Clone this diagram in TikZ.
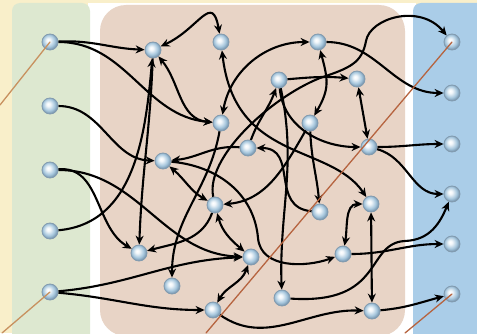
\documentclass[tikz,border=0pt]{standalone}
\usetikzlibrary{arrows.meta}
\definecolor{cream}{RGB}{249,239,202}
\definecolor{panelgreen}{RGB}{221,232,208}
\definecolor{panelbrown}{RGB}{232,212,198}
\definecolor{panelblue}{RGB}{170,205,232}
\definecolor{nodeblue}{RGB}{168,200,222}
\definecolor{nodering}{RGB}{120,150,175}
\definecolor{nodeedge}{RGB}{130,155,175}
\definecolor{tanline}{RGB}{200,145,95}
\definecolor{rustline}{RGB}{182,100,64}
% glossy sphere for the units
\pgfdeclareradialshading{sphere}{\pgfpoint{-6bp}{6bp}}{%
  color(0bp)=(white); color(6bp)=(white!85!nodeblue);
  color(18bp)=(nodeblue); color(26bp)=(nodering); color(50bp)=(nodering)}
\pgfdeclarelayer{back}
\pgfdeclarelayer{wires}
\pgfdeclarelayer{front}
\pgfsetlayers{back,wires,main,front}
\tikzset{
  unit/.style={circle, minimum size=16pt, inner sep=0pt, shading=sphere,
    draw=nodeedge, line width=0.8pt},
  link/.style={line width=2.1pt, black, -{Stealth[length=9pt,width=8pt]}},
  link2/.style={line width=2.1pt, black,
    {Stealth[length=9pt,width=8pt]}-{Stealth[length=9pt,width=8pt]}},
  guide/.style={line width=1.3pt, line cap=round},
}
\begin{document}
\begin{tikzpicture}[x=1pt,y=1pt]
\useasboundingbox (0,0) rectangle (477,333);
\clip (0,0) rectangle (477,333);

% background and the three panels
\begin{pgfonlayer}{back}
\fill[cream] (0,0) rectangle (477,333);
\fill[white] (88,-5) rectangle (416,330);
\fill[panelgreen, rounded corners=8pt] (12,-20) rectangle (90,330);
\fill[panelbrown, rounded corners=26pt] (100,-3) rectangle (405,328);
\fill[panelblue, rounded corners=8pt] (413,-20) rectangle (500,330);
\end{pgfonlayer}

% input units
\node[unit] (L1) at (50,291) {};
\node[unit] (L2) at (50,227) {};
\node[unit] (L3) at (50,163) {};
\node[unit] (L4) at (50,102) {};
\node[unit] (L5) at (50,41) {};
% output units
\node[unit] (R1) at (452,291) {};
\node[unit] (R2) at (452,240) {};
\node[unit] (R3) at (452,189) {};
\node[unit] (R4) at (452,139) {};
\node[unit] (R5) at (452,89) {};
\node[unit] (R6) at (452,39) {};
% hidden units
\node[unit] (A) at (153,283) {};
\node[unit] (B) at (221,291) {};
\node[unit] (C) at (318,291) {};
\node[unit] (D) at (279,253) {};
\node[unit] (E) at (357,254) {};
\node[unit] (F) at (221,210) {};
\node[unit] (G) at (310,210) {};
\node[unit] (H) at (369,186) {};
\node[unit] (I) at (163,172) {};
\node[unit] (J) at (248,185) {};
\node[unit] (K) at (215,128) {};
\node[unit] (L) at (320,121) {};
\node[unit] (M) at (371,129) {};
\node[unit] (N) at (139,80) {};
\node[unit] (O) at (251,76) {};
\node[unit] (P) at (172,47) {};
\node[unit] (Q) at (213,23) {};
\node[unit] (R) at (282,35) {};
\node[unit] (S) at (343,79) {};
\node[unit] (T) at (372,22) {};

\begin{pgfonlayer}{wires}
% connections from the input column
\draw[link] (L1) to[out=3,in=178] (A);
\draw[link] (L1) to[out=0,in=175] (F);
\draw[link] (L2) to[out=0,in=178] (I);
\draw[link] (L3) to[out=5,in=150] (N);
\draw[link] (L3) to[out=0,in=178] (O);
\draw[link] (L4) to[out=5,in=-95] (A);
\draw[link] (L5) to[out=5,in=182] (O);
\draw[link] (L5) to[out=-5,in=180] (Q);
% recurrent connections among hidden units
\draw[link2] (A) to[out=25,in=100,looseness=1.8] (B);
\draw[link2] (A) to[out=-50,in=175] (F);
\draw[link] (A) to[out=-92,in=88] (N);
\draw[link2] (F) to[out=80,in=180] (C);
\draw[link2] (B) .. controls (235,170) and (330,190) .. (M);
\draw[link] (F) to[out=-100,in=90] (P);
\draw[link2] (C) to[out=-75,in=60,looseness=1.2] (G);
\draw[link] (D) to[out=5,in=175] (E);
\draw[link] (D) to[out=-85,in=180] (H);
\draw[link] (D) to[out=-78,in=92] (R);
\draw[link] (J) to[out=70,in=-110] (D);
\draw[link2] (E) to[out=-80,in=100] (H);
\draw[link] (G) to[out=-88,in=95] (L);
\draw[link] (G) to[out=-120,in=5] (K);
\draw[link] (J) to[out=175,in=5] (I);
\draw[link] (L) to[out=175,in=0,looseness=1.3] (J);
\draw[link2] (I) to[out=-40,in=150] (K);
\draw[link2] (K) to[out=-75,in=140] (O);
\draw[link2] (O) to[out=-110,in=60] (Q);
\draw[link] (K) to[out=-110,in=15] (N);
\draw[link] (I) to[out=-5,in=95] (258,95) to[out=-85,in=-160] (S);
\draw[link2] (M) to[out=180,in=80] (S);
\draw[link2] (M) -- (T);
\draw[link] (Q) to[out=-35,in=178] (T);
% connections into the output column
\draw[link] (C) to[out=0,in=180] (R2);
\draw[link] (H) to[out=0,in=180] (R3);
\draw[link] (H) to[out=-15,in=180] (R4);
\draw[link] (K) .. controls (205,175) and (270,235) .. (320,255)
  .. controls (350,265) and (362,270) .. (366,292)
  .. controls (370,315) and (420,330) .. (R1);
\draw[link] (R) .. controls (385,28) and (365,90) .. (405,92)
  .. controls (430,93) and (440,110) .. (R4);
\draw[link] (S) to[out=0,in=180] (R5);
\draw[link] (T) to[out=5,in=195] (R6);
\end{pgfonlayer}

% straight guide lines over everything
\begin{pgfonlayer}{front}
\coordinate (g1) at (0,228);
\coordinate (g2) at (2,0);
\coordinate (g3) at (206,0);
\coordinate (g4) at (405,0);
\draw[guide, tanline] (L1.center) -- (g1);
\draw[guide, tanline] (L5.center) -- (g2);
\draw[guide, rustline] (R1.center) -- (g3);
\draw[guide, rustline] (R6.center) -- (g4);
\end{pgfonlayer}
\end{tikzpicture}
\end{document}
